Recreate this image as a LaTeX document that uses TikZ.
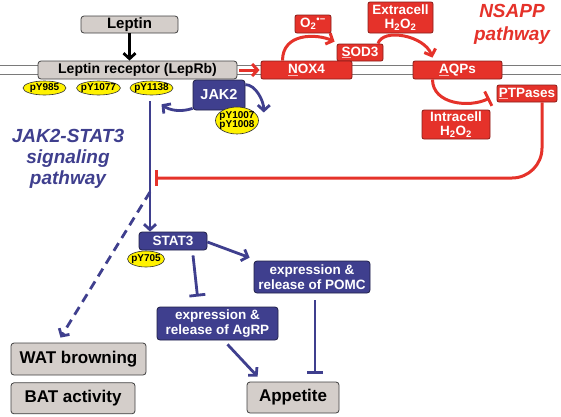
\documentclass[tikz,border=0pt]{standalone}
\usepackage{fontspec}
\setmainfont{Liberation Sans}
\usepackage{xcolor}
\usepackage{tikz}
\usetikzlibrary{positioning, arrows.meta, shapes.geometric}
\definecolor{jakblue}{HTML}{3F3F8E}
\definecolor{nsred}{HTML}{E5322A}
\definecolor{boxgray}{HTML}{D4CECA}
\definecolor{pyellow}{HTML}{FFF200}
\definecolor{memgray}{HTML}{7A7A7A}
\newcommand{\initl}[1]{{\color{nsred!35!white}\underline{\textcolor{white}{#1}}}}

\begin{document}
\begin{tikzpicture}[x=1pt, y=-1pt, line width=2.8pt,
  graybox/.style={draw=black!75, fill=boxgray, rounded corners=3pt, line width=0.8pt, inner sep=0pt, font=\fontsize{17}{19}\selectfont\bfseries},
  bluebox/.style={draw=black!50!jakblue, fill=jakblue, text=white, rounded corners=3pt, line width=0.8pt, inner sep=0pt, align=center, font=\fontsize{13.5}{15}\selectfont\bfseries},
  redbox/.style={draw=black!40!nsred, fill=nsred, text=white, rounded corners=2pt, line width=0.8pt, inner sep=0pt, align=center, font=\fontsize{13.5}{14.5}\selectfont\bfseries},
  ptag/.style={ellipse, draw=black!80, fill=pyellow, line width=0.6pt, inner xsep=-2pt, inner ysep=0pt, minimum height=14pt, align=center, font=\fontsize{10}{10}\selectfont\bfseries},
  blueto/.style={draw=jakblue, -{Straight Barb[length=5.5pt, width=12pt]}},
  bluebar/.style={draw=jakblue, -{Bar[width=16pt]}},
  redto/.style={draw=nsred, line width=3pt, -{Straight Barb[length=5.5pt, width=12pt]}},
  redbar/.style={draw=nsred, line width=3pt, -{Bar[width=16pt]}}]
  \useasboundingbox (0,0) rectangle (561,416);
  \draw[memgray, line width=1.2pt] (0,65.5) -- (561,65.5) (0,74.5) -- (561,74.5);

  \node (lep) [graybox, minimum width=97pt, minimum height=17pt, font=\fontsize{15}{15}\selectfont\bfseries] at (129.5,24.5) {Leptin};
  \node (lepr) [graybox, minimum width=199pt, minimum height=18pt, font=\fontsize{14}{14}\selectfont\bfseries] at (137.5,70) {Leptin receptor (LepRb)};
  \node (py985) [ptag, minimum width=43pt] at (44.5,88) {pY985};
  \node (py1077) [ptag, minimum width=42pt] at (98.5,88) {pY1077};
  \node (py1138) [ptag, minimum width=43pt] at (151.5,88) {pY1138};
  \node (jak) [bluebox, minimum width=52pt, minimum height=30pt, font=\fontsize{14.5}{15}\selectfont\bfseries] at (219,95) {JAK2};
  \node (pyj) [ptag, minimum width=43pt, minimum height=27pt, inner xsep=-4pt, inner ysep=-0.5pt, font=\fontsize{10}{9.5}\selectfont\bfseries] at (237,120.5) {pY1007\\pY1008};

  \node (o2) [redbox, minimum width=36pt, minimum height=18pt] at (313,24) {O\textsubscript{2}\textsuperscript{•−}};
  \node (xh) [redbox, minimum width=65pt, minimum height=31pt] at (400.5,17.5) {Extracell\\H\textsubscript{2}O\textsubscript{2}};
  \node (sod) [redbox, minimum width=46pt, minimum height=17pt] at (360,52.5) {\initl{S}OD3};
  \node (nox) [redbox, minimum width=91pt, minimum height=18pt] at (306.5,70) {\initl{N}OX4};
  \node (aqp) [redbox, minimum width=89pt, minimum height=18pt] at (457.5,70) {\initl{A}QPs};
  \node (ptp) [redbox, minimum width=60pt, minimum height=17pt] at (527,93.5) {\initl{P}TPases};
  \node (ih) [redbox, minimum width=68pt, minimum height=29pt] at (456,124.5) {Intracell\\H\textsubscript{2}O\textsubscript{2}};
  \node (nsapp) [text=nsred, align=center, font=\fontsize{19}{23}\selectfont\bfseries\itshape] at (512,24) {NSAPP\\pathway};
  \node (jaktitle) [text=jakblue, align=center, font=\fontsize{19}{21}\selectfont\bfseries\itshape] at (68,159) {JAK2-STAT3\\signaling\\pathway};

  \node (stat) [bluebox, minimum width=68pt, minimum height=18pt] at (173,241) {STAT3};
  \node (py705) [ptag, minimum width=37pt, minimum height=16pt] at (146,259) {pY705};
  \node (pomc) [bluebox, minimum width=116pt, minimum height=32pt] at (312,277) {expression \&\\release of POMC};
  \node (agrp) [bluebox, minimum width=121pt, minimum height=33pt] at (217.5,323.5) {expression \&\\release of AgRP};
  \node (app) [graybox, minimum width=92pt, minimum height=31pt] at (293,397.5) {Appetite};
  \node (wat) [graybox, minimum width=135pt, minimum height=32pt] at (78.5,359) {WAT browning};
  \node (bat) [graybox, minimum width=124pt, minimum height=31pt, below right=7pt and 0pt of wat.south west] {BAT activity};

  \coordinate (fork) at (150,192);
  \coordinate (hit) at (155,178);

  \draw[black, -{Straight Barb[length=5.5pt, width=12pt]}] (lep.south) -- (lep.south |- lepr.north);
  \draw[redto, shorten <=2pt, shorten >=1pt] (lepr.east) -- (nox.west);
  \draw[redto] ([xshift=-24pt]nox.north) .. controls +(0,-28) and +(-18,-8) .. ([xshift=-2pt, yshift=2pt]sod.north west);
  \draw[redto] ([xshift=18pt]sod.north) .. controls +(5,-16) and +(-8,-22) .. ([xshift=-25pt, yshift=3pt]aqp.north);
  \draw[redbar] ([xshift=-25pt]aqp.south) .. controls +(0,25) and +(-20,10) .. ([xshift=-7pt, yshift=-4.5pt]ptp.west);
  \draw[redbar, rounded corners=30pt] ([xshift=15pt]ptp.south) |- (hit);

  \draw[blueto] ([yshift=2pt]jak.south west) .. controls +(-12,4) and +(8,6) .. ([xshift=10pt, yshift=-9pt]py1138.south);
  \draw[blueto] ([yshift=-5pt]jak.north east) .. controls +(10,0) and +(0,-12) .. ([xshift=5pt, yshift=8pt]pyj.east);
  \draw[blueto] ([xshift=-1.5pt, yshift=-6pt]py1138.south) -- (fork |- stat.north);
  \draw[blueto, dash pattern=on 9pt off 6pt] (fork) -- ([xshift=-18pt, yshift=5pt]wat.north);
  \draw[blueto] ([yshift=-1pt]stat.east) -- ([xshift=-4pt, yshift=3pt]pomc.north west);
  \draw[bluebar] ([xshift=20pt, yshift=-5pt]stat.south) -- ([xshift=-20pt, yshift=10pt]agrp.north);
  \draw[blueto] ([xshift=10pt, yshift=-4pt]agrp.south) -- ([xshift=11pt, yshift=5pt]app.north west);
  \draw[bluebar] ([xshift=3pt, yshift=-7pt]pomc.south) -- ([xshift=22pt, yshift=8pt]app.north);
\end{tikzpicture}
\end{document}
